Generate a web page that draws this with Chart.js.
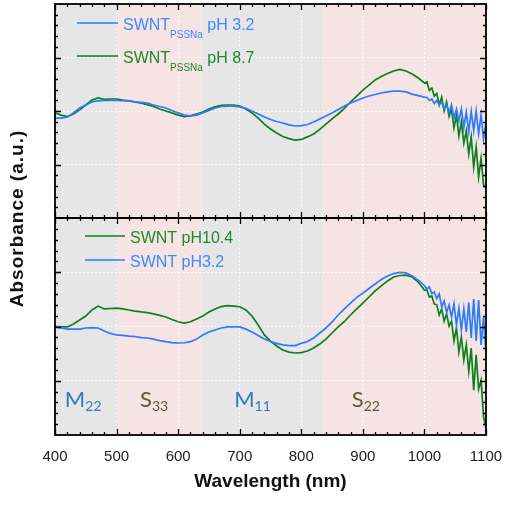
<!DOCTYPE html>
<html>
<head>
<meta charset="utf-8">
<script src="https://cdn.jsdelivr.net/npm/chart.js@4.4.1/dist/chart.umd.min.js"></script>
<style>
  html, body { margin: 0; background: #fff; }
  #wrap { width: 507px; height: 505px; }
</style>
</head>
<body>
<div id="wrap"><canvas id="absChart"></canvas></div>
<script>
/* ── Data (arbitrary absorbance units, 0–100 per panel) ── */
const wavelength = [
  400, 410, 420, 430, 440, 450, 460, 470, 480, 490,
  500, 510, 520, 530, 540, 550, 560, 570, 580, 590,
  600, 610, 620, 630, 640, 650, 660, 670, 680, 690,
  700, 710, 720, 730, 740, 750, 760, 770, 780, 790,
  800, 810, 820, 830, 840, 850, 860, 870, 880, 890,
  900, 910, 920, 930, 940, 950, 960, 970, 980, 990,
  1000, 1004, 1008, 1012, 1016, 1020, 1024, 1028, 1032, 1036,
  1040, 1044, 1048, 1052, 1056, 1060, 1064, 1068, 1072, 1076,
  1080, 1084, 1088, 1092, 1096, 1100
];

// top panel: SWNT(PSSNa) pH 3.2
const topBlue = [
  46.7, 46.7, 47.2, 49.1, 51.4, 52.8, 54.2, 54.7, 54.9, 54.9,
  54.9, 54.8, 54.7, 54.3, 54.0, 53.7, 52.8, 52.1, 51.4, 50.2,
  49.1, 48.1, 47.7, 48.1, 49.1, 50.2, 51.4, 52.1, 52.3, 52.3,
  51.9, 51.2, 50.0, 48.6, 47.2, 46.0, 45.1, 44.4, 43.5, 43.0,
  43.2, 43.7, 44.9, 46.3, 47.7, 49.1, 50.7, 52.3, 53.7, 54.9,
  56.1, 57.0, 57.7, 58.4, 58.9, 59.3, 59.3, 58.9, 57.9, 57.2,
  56.5, 56.3, 54.9, 55.6, 53.5, 54.9, 53.0, 54.2, 50.9, 52.8,
  49.3, 52.8, 46.7, 50.9, 45.3, 50.9, 42.1, 49.5, 40.2, 49.8,
  40.7, 50.0, 39.3, 48.1, 36.9, 44.9
];

// top panel: SWNT(PSSNa) pH 8.7
const topGreen = [
  49.1, 48.1, 47.4, 48.6, 50.5, 52.8, 55.1, 56.1, 55.4, 55.6,
  55.6, 55.1, 54.7, 54.2, 53.7, 53.0, 52.1, 50.9, 50.0, 49.1,
  48.1, 47.4, 47.7, 48.6, 49.5, 50.9, 51.9, 52.6, 52.8, 52.8,
  52.3, 50.9, 49.1, 46.7, 43.9, 41.6, 39.7, 38.1, 37.1, 36.4,
  36.7, 37.9, 39.3, 41.4, 43.9, 46.3, 48.6, 51.2, 54.2, 57.0,
  59.8, 62.1, 64.5, 66.1, 67.5, 68.7, 69.4, 68.7, 67.3, 65.4,
  63.1, 63.6, 59.6, 60.7, 57.0, 58.2, 52.8, 56.5, 50.0, 54.2,
  47.4, 50.9, 42.1, 48.1, 38.3, 44.9, 35.0, 40.7, 29.9, 37.9,
  23.8, 33.2, 19.2, 28.0, 15.4, 14.0
];

// bottom panel: SWNT pH3.2
const botBlue = [
  49.8, 49.3, 48.8, 48.8, 48.8, 49.3, 49.5, 49.3, 47.9, 46.8,
  46.1, 45.9, 45.6, 45.4, 44.9, 44.7, 44.2, 43.5, 43.0, 42.6,
  42.4, 42.5, 43.0, 44.2, 46.1, 47.5, 48.4, 49.3, 49.8, 49.8,
  49.8, 48.8, 47.5, 45.9, 44.2, 43.1, 42.2, 41.5, 41.2, 41.2,
  42.2, 43.1, 44.7, 47.0, 49.3, 52.1, 55.3, 58.1, 60.8, 63.4,
  65.4, 67.5, 69.6, 71.7, 73.3, 74.4, 74.9, 74.7, 73.3, 71.4,
  68.9, 67.3, 68.2, 65.2, 65.9, 62.8, 65.0, 59.0, 61.8, 56.5,
  59.9, 54.4, 60.4, 50.7, 58.5, 48.4, 58.1, 47.5, 61.1, 44.7,
  62.7, 43.3, 62.2, 41.5, 54.4, 36.9
];

// bottom panel: SWNT pH10.4
const botGreen = [
  49.9, 49.8, 49.8, 51.2, 53.0, 54.8, 57.6, 59.4, 58.1, 58.3,
  58.5, 58.1, 57.6, 57.1, 56.7, 56.4, 55.8, 55.1, 54.4, 53.2,
  52.2, 51.6, 52.2, 53.5, 54.8, 56.7, 58.1, 59.2, 59.6, 59.4,
  59.1, 57.6, 54.8, 50.7, 46.1, 43.3, 41.0, 39.2, 38.2, 37.8,
  38.0, 38.7, 40.1, 41.9, 44.2, 47.0, 49.8, 52.3, 55.3, 58.1,
  60.8, 63.6, 66.4, 68.7, 71.0, 72.8, 73.5, 73.7, 72.8, 70.5,
  66.8, 66.8, 63.6, 64.1, 60.4, 60.0, 55.3, 58.1, 52.5, 55.8,
  50.2, 52.5, 43.3, 49.3, 38.2, 45.2, 34.6, 41.5, 29.5, 40.1,
  20.7, 36.9, 21.2, 25.3, 8.3, 3.2
];

const xTicks = [400, 500, 600, 700, 800, 900, 1000, 1100];

/* ── Styling ─────────────────────────────────────────────── */
const BLUE = '#2a7bff';
const GREEN = '#0c7f1e';
const FONT = '"Liberation Sans", Arial, sans-serif';

// shaded spectral regions (nm)
const bands = [
  [400, 503, '#e6e6e6'],
  [503, 638, '#f6e4e4'],
  [638, 835, '#e6e6e6'],
  [835, 1100, '#f6e4e4']
];

const pts = arr => wavelength.map((w, i) => ({ x: w, y: arr[i] }));

function drawRich(ctx, x, y, parts, color) {
    ctx.fillStyle = color;
    parts.forEach(([text, size, dy, family]) => {
        ctx.font = size + 'px ' + (family || FONT);
        ctx.fillText(text, x, y + dy);
        x += ctx.measureText(text).width;
    });
}

const panelDecor = {
    id: 'panelDecor',
    beforeDraw(chart) {
        const { ctx, chartArea: a, scales: { x } } = chart;
        ctx.save();
        bands.forEach(([from, to, color]) => {
            const x0 = x.getPixelForValue(from), x1 = x.getPixelForValue(to);
            ctx.fillStyle = color;
            ctx.fillRect(x0, a.top, x1 - x0, a.bottom - a.top);
        });
        ctx.restore();
    },
    afterDraw(chart) {
        const { ctx, chartArea: a, scales: { x, yTop, yBot } } = chart;
        const mid = yTop.bottom;
        ctx.save();

        // tick marks (inward, every side)
        ctx.strokeStyle = '#000';
        ctx.lineWidth = 1.3;
        ctx.beginPath();
        for (let v = 400; v <= 1100; v += 20) {
            const px = Math.round(x.getPixelForValue(v)) + 0.5;
            const len = v % 100 === 0 ? 6 : 3;
            ctx.moveTo(px, a.top); ctx.lineTo(px, a.top + len);
            ctx.moveTo(px, mid - len); ctx.lineTo(px, mid + len);
            ctx.moveTo(px, a.bottom); ctx.lineTo(px, a.bottom - len);
        }
        [yTop, yBot].forEach(s => {
            for (let v = 5; v < 100; v += 5) {
                const py = Math.round(s.getPixelForValue(v)) + 0.5;
                const len = v % 25 === 0 ? 6 : 3;
                ctx.moveTo(a.left, py); ctx.lineTo(a.left + len, py);
                ctx.moveTo(a.right, py); ctx.lineTo(a.right - len, py);
            }
        });
        ctx.stroke();

        // frames
        ctx.lineWidth = 1.8;
        ctx.strokeRect(a.left, a.top, a.right - a.left, a.bottom - a.top);
        ctx.beginPath();
        ctx.moveTo(a.left, mid); ctx.lineTo(a.right, mid);
        ctx.lineWidth = 2.2;
        ctx.stroke();

        // legends
        ctx.textBaseline = 'alphabetic';
        ctx.textAlign = 'left';
        const legendLine = (x0, x1, y, color) => {
            ctx.beginPath();
            ctx.strokeStyle = color;
            ctx.lineWidth = 1.6;
            ctx.moveTo(x0, y); ctx.lineTo(x1, y);
            ctx.stroke();
        };
        const L = a.left;
        legendLine(L + 22, L + 63, a.top + 19, BLUE);
        drawRich(ctx, L + 68, a.top + 26, [['SWNT', 16, 0], ['PSSNa', 10, 8], [' pH 3.2', 16, 0]], '#3b8bff');
        legendLine(L + 22, L + 63, a.top + 52, GREEN);
        drawRich(ctx, L + 68, a.top + 59, [['SWNT', 16, 0], ['PSSNa', 10, 8], [' pH 8.7', 16, 0]], '#1f8a2a');

        legendLine(L + 30, L + 70, mid + 18, GREEN);
        drawRich(ctx, L + 75, mid + 25, [['SWNT pH10.4', 16, 0]], '#1f8a2a');
        legendLine(L + 30, L + 70, mid + 42, BLUE);
        drawRich(ctx, L + 75, mid + 49, [['SWNT pH3.2', 16, 0]], '#3b8bff');

        // band labels
        const LATO = 'Lato, "Open Sans", sans-serif';
        const by = yBot.getPixelForValue(13);
        const bandLabel = (nm, main, sub, color) =>
            drawRich(ctx, x.getPixelForValue(nm), by, [[main, 22, 0, LATO], [sub, 14, 4, LATO]], color);
        bandLabel(416, 'M', '22', '#2e7cc4');
        bandLabel(538, 'S', '33', '#5d5a30');
        bandLabel(691, 'M', '11', '#2e7cc4');
        bandLabel(882, 'S', '22', '#5d5a30');

        // y axis title, shared by both panels
        ctx.translate(18, (a.top + a.bottom) / 2 - 1);
        ctx.rotate(-Math.PI / 2);
        ctx.font = 'bold 19px ' + FONT;
        ctx.letterSpacing = '1px';
        ctx.textAlign = 'center';
        ctx.textBaseline = 'middle';
        ctx.fillStyle = '#111';
        ctx.fillText('Absorbance (a.u.)', 0, 0);
        ctx.restore();
    }
};

const whiteDots = 'rgba(255,255,255,0.95)';
const panelY = weight => ({
    type: 'linear',
    position: 'left',
    stack: 'panels',
    stackWeight: weight,
    min: 0,
    max: 100,
    ticks: { display: false, stepSize: 25 },
    grid: {
        drawTicks: false,
        color: c => (c.tick && c.tick.value > 0 && c.tick.value < 100) ? whiteDots : 'transparent'
    },
    border: { display: false, dash: [1.5, 2.5] }
});

new Chart(document.getElementById('absChart'), {
    type: 'line',
    data: {
        datasets: [
            { label: 'SWNT PSSNa pH 3.2', data: pts(topBlue), yAxisID: 'yTop', borderColor: BLUE },
            { label: 'SWNT PSSNa pH 8.7', data: pts(topGreen), yAxisID: 'yTop', borderColor: GREEN },
            { label: 'SWNT pH3.2', data: pts(botBlue), yAxisID: 'yBot', borderColor: BLUE },
            { label: 'SWNT pH10.4', data: pts(botGreen), yAxisID: 'yBot', borderColor: GREEN }
        ].map(d => Object.assign(d, { borderWidth: 1.7, pointRadius: 0, tension: 0, fill: false }))
    },
    options: {
        responsive: true,
        maintainAspectRatio: false,
        animation: false,
        events: [],
        layout: { padding: { left: 55, right: 21, top: 4, bottom: 21.25 } },
        plugins: { legend: { display: false }, tooltip: { enabled: false } },
        scales: {
            x: {
                type: 'linear',
                min: 400,
                max: 1100,
                afterBuildTicks: s => { s.ticks = xTicks.map(v => ({ value: v })); },
                // edge labels fit inside the layout padding already
                afterFit: s => { s.paddingLeft = 0; s.paddingRight = 0; },
                ticks: {
                    padding: 13,
                    maxRotation: 0,
                    color: '#222',
                    font: { family: FONT, size: 15 },
                    callback: v => String(v)
                },
                grid: {
                    drawTicks: false,
                    lineWidth: 1,
                    color: c => (c.tick && c.tick.value > 400 && c.tick.value < 1100) ? whiteDots : 'transparent'
                },
                border: { display: false, dash: [1.5, 2.5] },
                title: {
                    display: true,
                    text: 'Wavelength (nm)',
                    color: '#111',
                    padding: 0,
                    font: { family: FONT, size: 19, weight: 'bold', lineHeight: 0.25 }
                }
            },
            // left-side boxes are laid out in reverse order, so the lower panel comes first
            yBot: panelY(217),
            yTop: panelY(214)
        }
    },
    plugins: [panelDecor]
});
</script>
</body>
</html>
